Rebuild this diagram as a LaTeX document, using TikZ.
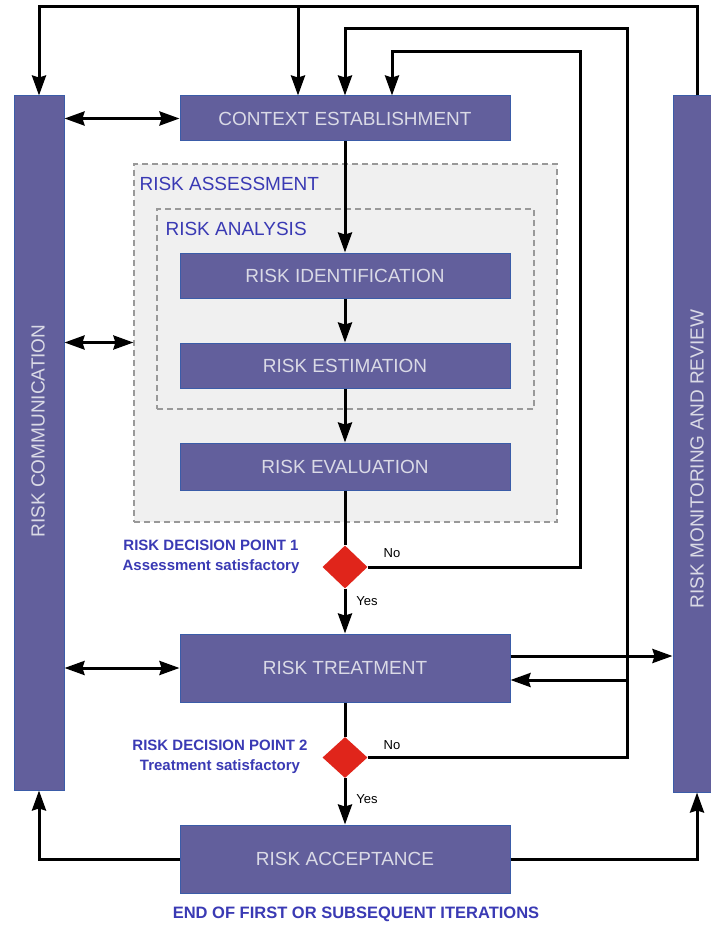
\documentclass[tikz,border=0pt]{standalone}
\usepackage{fontspec}
\setmainfont{Liberation Sans}
\usetikzlibrary{arrows.meta,positioning,shapes.geometric}
\definecolor{boxfill}{HTML}{625F9C}
\definecolor{boxline}{HTML}{3B5CA8}
\definecolor{boxtext}{HTML}{DADAE6}
\definecolor{labblue}{HTML}{3A3AB4}
\definecolor{decred}{HTML}{E0251B}
\definecolor{areafill}{HTML}{F0F0F0}
\begin{document}
\begin{tikzpicture}[x=1pt,y=-1pt,
  box/.style={rectangle, draw=boxline, line width=1pt, fill=boxfill, text=boxtext, minimum width=330pt, minimum height=45pt, font=\fontsize{19}{22}\selectfont},
  bar/.style={rectangle, draw=boxline, line width=1pt, fill=boxfill, minimum width=50pt},
  bartext/.style={text=boxtext, rotate=90, font=\fontsize{19}{22}\selectfont},
  area/.style={draw=gray!80, dash pattern=on 6pt off 4pt, line width=1.2pt},
  arealab/.style={text=labblue, anchor=west, font=\fontsize{19}{22}\selectfont},
  decision/.style={diamond, fill=decred, minimum width=45pt, minimum height=43pt, inner sep=0pt},
  declab/.style={text=labblue, align=center, font=\bfseries\fontsize{15}{20}\selectfont},
  yn/.style={font=\fontsize{13}{15}\selectfont, inner sep=1pt},
  flow/.style={line width=3pt, -{Stealth[length=20pt,width=14pt,inset=2pt]}},
  dflow/.style={line width=3pt, {Stealth[length=20pt,width=14pt,inset=2pt]}-{Stealth[length=20pt,width=14pt,inset=2pt]}}]
\useasboundingbox (0,0) rectangle (711,925);
\node[area, fill=areafill, minimum width=423pt, minimum height=358pt] (assess) at (345.5,343) {};
\node[area, minimum width=377pt, minimum height=200pt] (analysis) at (345.5,309) {};
\node[arealab] (assesslab) at (136,184) {RISK ASSESSMENT};
\node[arealab] (analysislab) at (162,229) {RISK ANALYSIS};
\node[bar, minimum height=694pt] (comm) at (39,443) {};
\node[bar, minimum width=48pt, minimum height=696pt] (mon) at (697,444) {};
\node[bartext] (commtext) at (38,431) {RISK COMMUNICATION};
\node[bartext] (montext) at (697,459) {RISK MONITORING AND REVIEW};
\node[box] (ctx) at (345,118.5) {CONTEXT ESTABLISHMENT};
\node[box] (ident) at (345,275.5) {RISK IDENTIFICATION};
\node[box] (estim) at (345,365.5) {RISK ESTIMATION};
\node[box, minimum height=47pt] (eval) at (345,466.5) {RISK EVALUATION};
\node[box, minimum height=68pt] (treat) at (345,668) {RISK TREATMENT};
\node[box, minimum height=68pt] (accept) at (345,859) {RISK ACCEPTANCE};
\node[decision] (dp1) at (345,567) {};
\node[decision, minimum height=41pt] (dp2) at (345,757.5) {};
\node[declab] (dp1lab) at (211,557) {RISK DECISION POINT 1\\Assessment satisfactory};
\node[declab] (dp2lab) at (220,757) {RISK DECISION POINT 2\\Treatment satisfactory};
\node[yn] (no1) at (392,553) {No};
\node[yn] (yes1) at (367,601) {Yes};
\node[yn] (no2) at (392,745) {No};
\node[yn] (yes2) at (367,799) {Yes};
\node[text=labblue, font=\bfseries\fontsize{16.5}{20}\selectfont] (endlab) at (356,914) {END OF FIRST OR SUBSEQUENT ITERATIONS};
\coordinate (topline) at (0,7);
\coordinate (ctxin) at (298,7);
\coordinate (loopa) at (580,52);
\coordinate (loopb) at (627,29);
% main flow
\draw[flow] (ctx.south) -- (ident.north);
\draw[flow] (ident.south) -- (estim.north);
\draw[flow] (estim.south) -- (eval.north);
\draw[line width=3pt] (eval.south) -- (dp1.north);
\draw[flow] (dp1.south) -- (treat.north);
\draw[line width=3pt] (treat.south) -- (dp2.north);
\draw[flow] (dp2.south) -- (accept.north);
% loops back
\draw[flow] (mon.north) -- (mon.north |- topline) -| (comm.north);
\draw[flow] (ctxin) -- (ctxin |- ctx.north);
\draw[flow] (dp1.east) -| (loopa) -| ([xshift=47pt]ctx.north);
\draw[flow] (dp2.east) -| (loopb) -| (ctx.north);
\draw[flow] ([yshift=-12pt]treat.east -| loopb) -- ([yshift=-12pt]treat.east);
\draw[flow] ([yshift=12pt]treat.east) -- ([yshift=12pt]treat.east -| mon.west);
\draw[flow] (accept.west) -| (comm.south);
\draw[flow] (accept.east) -| (mon.south);
% communication
\draw[dflow] (comm.east |- ctx.west) -- (ctx.west);
\draw[dflow] (comm.east |- estim.north) -- (assess.west |- estim.north);
\draw[dflow] (comm.east |- treat.west) -- (treat.west);
\end{tikzpicture}
\end{document}
